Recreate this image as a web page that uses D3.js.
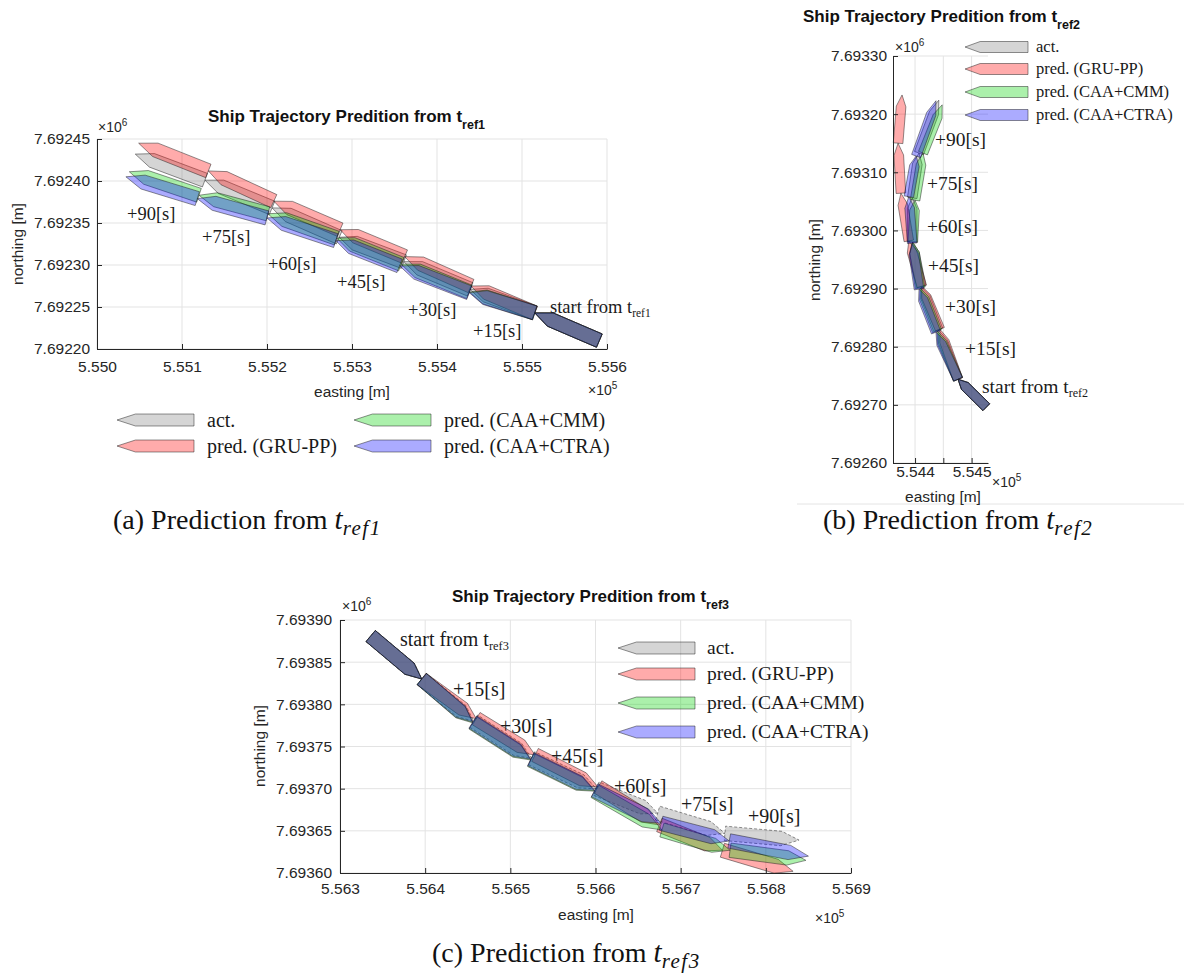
<!DOCTYPE html>
<html>
<head>
<meta charset="utf-8">
<script src="https://cdn.jsdelivr.net/npm/d3@7/dist/d3.min.js"></script>
<style>
  body { margin: 0; background: #fff; }
</style>
</head>
<body>
<div id="fig"></div>
<script>
// ---- data ----
var seriesNames = ["act.", "pred. (GRU-PP)", "pred. (CAA+CMM)", "pred. (CAA+CTRA)"];
var seriesColors = ["#808080", "#ff0000", "#00d000", "#0000ff"];
var stepLabels = ["+15[s]", "+30[s]", "+45[s]", "+60[s]", "+75[s]", "+90[s]"];

// panel (a): positions [easting, northing] in metres, t_ref1 .. +90 s
var xTicksA = [555000, 555100, 555200, 555300, 555400, 555500, 555600];
var xTickLabelsA = ["5.550", "5.551", "5.552", "5.553", "5.554", "5.555", "5.556"];
var yTicksA = [7692200, 7692250, 7692300, 7692350, 7692400, 7692450];
var actA  = [[555591,7692210],[555515,7692243],[555439,7692271],[555361,7692304],[555285,7692333],[555206,7692368],[555127,7692401],[555045,7692432]];
var gruA  = [[555591,7692210],[555515,7692243],[555440,7692275],[555362,7692310],[555286,7692342],[555208,7692376],[555131,7692412],[555049,7692445]];
var cmmA  = [[555591,7692210],[555515,7692243],[555438,7692268],[555358,7692301],[555282,7692332],[555201,7692361],[555120,7692383],[555038,7692411]];
var ctraA = [[555591,7692210],[555515,7692243],[555438,7692267],[555356,7692299],[555281,7692329],[555200,7692356],[555118,7692379],[555034,7692405]];

// panel (b)
var xTicksB = [554400, 554450, 554500];
var xTickLabelsB = ["5.544", "", "5.545"];
var yTicksB = [7692600, 7692700, 7692800, 7692900, 7693000, 7693100, 7693200, 7693300];
var actB  = [[554526,7692696],[554476,7692744],[554441,7692829],[554411,7692903],[554395,7692980],[554395,7693056],[554407,7693133],[554442,7693224]];
var gruB  = [[554526,7692696],[554476,7692744],[554444,7692830],[554412,7692904],[554389,7692982],[554375,7693064],[554370,7693150],[554377,7693233]];
var cmmB  = [[554526,7692696],[554476,7692744],[554439,7692827],[554409,7692901],[554396,7692980],[554400,7693052],[554414,7693133],[554448,7693216]];
var ctraB = [[554526,7692696],[554476,7692744],[554437,7692825],[554407,7692899],[554395,7692978],[554389,7693058],[554402,7693128],[554437,7693223]];

// panel (c)
var xTicksC = [556300, 556400, 556500, 556600, 556700, 556800, 556900];
var xTickLabelsC = ["5.563", "5.564", "5.565", "5.566", "5.567", "5.568", "5.569"];
var yTicksC = [7693600, 7693650, 7693700, 7693750, 7693800, 7693850, 7693900];
var actC  = [[556336,7693881],[556396,7693830],[556457,7693780],[556525,7693736],[556601,7693700],[556673,7693671],[556752,7693647],[556839,7693639]];
var gruC  = [[556336,7693881],[556396,7693830],[556460,7693783],[556529,7693740],[556603,7693702],[556675,7693657],[556749,7693627],[556832,7693602]];
var cmmC  = [[556336,7693881],[556396,7693830],[556456,7693778],[556524,7693734],[556599,7693697],[556678,7693651],[556758,7693627],[556847,7693615]];
var ctraC = [[556336,7693881],[556396,7693830],[556456,7693779],[556524,7693735],[556599,7693698],[556677,7693659],[556757,7693638],[556850,7693620]];

// ---- layout ----
var svgWidth = 1184;
var svgHeight = 979;
var shipWidth = 17; // metres

var sans = "'Liberation Sans', Arial, Helvetica, sans-serif";
var serif = "'Liberation Serif', 'Times New Roman', Times, serif";

var panels = [
  {
    ref: "ref1", series: [actA, gruA, cmmA, ctraA],
    xDomain: [555000, 555600], yDomain: [7692200, 7692450],
    xTicks: xTicksA, xTickLabels: xTickLabelsA, yTicks: yTicksA,
    box: {l: 97, r: 607, t: 139, b: 349}, xPad: 12, yPad: 7,
    title: [208, 122], e6: [98, 132], e5: [588, 395],
    xLabel: [352, 397], yLabel: [23, 244],
    labelSize: 18.5, labels: [[550,313],[473,337],[408,316],[337,288],[268,270],[202,243],[127,220]],
    legend: {size: 20, w: 77, h: 12, items: [[117,420],[117,446],[354,420],[354,446]], gap: 13},
    dashAct: false,
    caption: [113, 529, "(a)"]
  },
  {
    ref: "ref2", series: [actB, gruB, cmmB, ctraB],
    xDomain: [554361, 554529], yDomain: [7692600, 7693300],
    xTicks: xTicksB, xTickLabels: xTickLabelsB, yTicks: yTicksB,
    box: {l: 893, r: 988, t: 56, b: 463}, xPad: 3, yPad: 6,
    title: [803, 22], e6: [895, 52], e5: [992, 487],
    xLabel: [943, 502], yLabel: [820, 260],
    labelSize: 19.5, labels: [[982,393],[965,355],[945,313],[928,272],[927,233],[927,190],[935,146]],
    legend: {size: 16.5, w: 63, h: 11, items: [[965,47],[965,69],[965,92],[965,115]], gap: 8},
    dashAct: false,
    caption: [823, 529, "(b)"]
  },
  {
    ref: "ref3", series: [actC, gruC, cmmC, ctraC],
    xDomain: [556300, 556900], yDomain: [7693600, 7693900],
    xTicks: xTicksC, xTickLabels: xTickLabelsC, yTicks: yTicksC,
    box: {l: 340, r: 851, t: 620, b: 873}, xPad: 10, yPad: 8,
    title: [452, 602], e6: [342, 611], e5: [815, 923],
    xLabel: [596, 920], yLabel: [265, 746],
    labelSize: 20, labels: [[400,646],[453,696],[500,733],[551,763],[614,793],[681,811],[748,823]],
    legend: {size: 19.5, w: 77, h: 12, items: [[618,648],[618,674],[618,703],[618,732]], gap: 12},
    dashAct: true,
    caption: [432, 962, "(c)"]
  }
];

var svg = d3.select("#fig")
  .append("svg")
  .attr("width", svgWidth)
  .attr("height", svgHeight)
  .style("background", "#fff");

// faint frame line under panel (b)
svg.append("line")
  .attr("x1", 797).attr("x2", 1184).attr("y1", 504).attr("y2", 504)
  .attr("stroke", "#e4e4e4").attr("stroke-width", 1);

// ship outline: stern s -> bow b (pixel coords)
function shipPoints(s, b, w) {
  var dx = b[0] - s[0], dy = b[1] - s[1];
  var L = Math.hypot(dx, dy);
  var ux = dx / L, uy = dy / L, nx = -uy, ny = ux, h = w / 2, t = 0.76 * L;
  return [
    [s[0] + nx * h, s[1] + ny * h],
    [s[0] + ux * t + nx * h, s[1] + uy * t + ny * h],
    [b[0], b[1]],
    [s[0] + ux * t - nx * h, s[1] + uy * t - ny * h],
    [s[0] - nx * h, s[1] - ny * h]
  ];
}

function drawShip(g, pts, color, dashed) {
  g.append("polygon")
    .attr("points", pts.map(function(p) { return p.join(","); }).join(" "))
    .attr("fill", color)
    .attr("fill-opacity", 0.33)
    .attr("stroke", "#1a1a1a")
    .attr("stroke-opacity", 0.6)
    .attr("stroke-width", 0.8)
    .attr("stroke-dasharray", dashed ? "3,2" : null)
    .attr("stroke-linejoin", "round");
}

panels.forEach(function(p) {
  var g = svg.append("g");
  var x = d3.scaleLinear().domain(p.xDomain).range([p.box.l, p.box.r]);
  var y = d3.scaleLinear().domain(p.yDomain).range([p.box.b, p.box.t]);
  var pxPerM = (p.box.r - p.box.l) / (p.xDomain[1] - p.xDomain[0]);

  // grid
  g.append("g").selectAll("line").data(p.xTicks).enter().append("line")
    .attr("x1", d => x(d)).attr("x2", d => x(d))
    .attr("y1", p.box.t).attr("y2", p.box.b)
    .attr("stroke", "#e3e3e3").attr("stroke-width", 1);
  g.append("g").selectAll("line").data(p.yTicks).enter().append("line")
    .attr("y1", d => y(d)).attr("y2", d => y(d))
    .attr("x1", p.box.l).attr("x2", p.box.r)
    .attr("stroke", "#e3e3e3").attr("stroke-width", 1);

  // ships
  var shipG = g.append("g");
  p.series.forEach(function(track, si) {
    for (var k = 0; k < track.length - 1; k++) {
      var s = [x(track[k][0]), y(track[k][1])];
      var b = [x(track[k + 1][0]), y(track[k + 1][1])];
      drawShip(shipG, shipPoints(s, b, shipWidth * pxPerM), seriesColors[si], p.dashAct && si === 0);
    }
  });

  // axes
  var bottomAxis = d3.axisBottom(x).tickValues(p.xTicks)
    .tickFormat(function(d, i) { return p.xTickLabels[i]; })
    .tickSize(-5).tickSizeOuter(0).tickPadding(p.xPad);
  var leftAxis = d3.axisLeft(y).tickValues(p.yTicks)
    .tickFormat(function(d) { return (d / 1e6).toFixed(5); })
    .tickSize(-5).tickSizeOuter(0).tickPadding(p.yPad);

  [g.append("g").attr("transform", `translate(0, ${p.box.b})`).call(bottomAxis),
   g.append("g").attr("transform", `translate(${p.box.l}, 0)`).call(leftAxis)]
    .forEach(function(ax) {
      ax.attr("font-family", sans).attr("font-size", "15.5px");
      ax.selectAll("path, line").attr("stroke", "#262626");
      ax.selectAll("text").attr("fill", "#262626");
    });

  // exponent labels
  var e6 = g.append("text").attr("x", p.e6[0]).attr("y", p.e6[1])
    .attr("font-family", sans).attr("font-size", "14px").attr("fill", "#262626");
  e6.append("tspan").text("\u00d710");
  e6.append("tspan").attr("dy", -6).attr("font-size", "10px").text("6");
  var e5 = g.append("text").attr("x", p.e5[0]).attr("y", p.e5[1])
    .attr("font-family", sans).attr("font-size", "14px").attr("fill", "#262626");
  e5.append("tspan").text("\u00d710");
  e5.append("tspan").attr("dy", -6).attr("font-size", "10px").text("5");

  // axis titles
  g.append("text").attr("x", p.xLabel[0]).attr("y", p.xLabel[1])
    .attr("text-anchor", "middle").attr("font-family", sans).attr("font-size", "15.5px")
    .attr("fill", "#262626").text("easting [m]");
  g.append("text")
    .attr("transform", `translate(${p.yLabel[0]}, ${p.yLabel[1]}) rotate(-90)`)
    .attr("text-anchor", "middle").attr("font-family", sans).attr("font-size", "15.5px")
    .attr("fill", "#262626").text("northing [m]");

  // title
  var title = g.append("text").attr("x", p.title[0]).attr("y", p.title[1])
    .attr("font-family", sans).attr("font-size", "17px").attr("font-weight", "bold")
    .attr("fill", "#111");
  title.append("tspan").text("Ship Trajectory Predition from t");
  title.append("tspan").attr("dy", 7).attr("font-size", "12.5px").text(p.ref);

  // step labels
  var start = g.append("text").attr("x", p.labels[0][0]).attr("y", p.labels[0][1])
    .attr("font-family", serif).attr("font-size", p.labelSize + "px").attr("fill", "#1a1a1a");
  start.append("tspan").text("start from t");
  start.append("tspan").attr("dy", 4).attr("font-size", (p.labelSize * 0.62) + "px").text(p.ref);
  stepLabels.forEach(function(lab, i) {
    g.append("text").attr("x", p.labels[i + 1][0]).attr("y", p.labels[i + 1][1])
      .attr("font-family", serif).attr("font-size", p.labelSize + "px").attr("fill", "#1a1a1a")
      .text(lab);
  });

  // legend
  seriesNames.forEach(function(name, i) {
    var it = p.legend.items[i];
    var s = [it[0] + p.legend.w, it[1]], b = [it[0], it[1]];
    drawShip(g, shipPoints(s, b, p.legend.h), seriesColors[i], false);
    g.append("text").attr("x", it[0] + p.legend.w + p.legend.gap).attr("y", it[1] + p.legend.size * 0.33)
      .attr("font-family", serif).attr("font-size", p.legend.size + "px").attr("fill", "#1a1a1a")
      .text(name);
  });

  // caption
  var cap = g.append("text").attr("x", p.caption[0]).attr("y", p.caption[1])
    .attr("font-family", serif).attr("font-size", "28px").attr("fill", "#111");
  cap.append("tspan").text(p.caption[2] + " Prediction from ");
  cap.append("tspan").attr("font-style", "italic").attr("font-size", "29px").text("t");
  cap.append("tspan").attr("font-style", "italic").attr("font-size", "21px").attr("dy", 6)
    .attr("letter-spacing", "1.5px").text(p.ref);
});
</script>
</body>
</html>
